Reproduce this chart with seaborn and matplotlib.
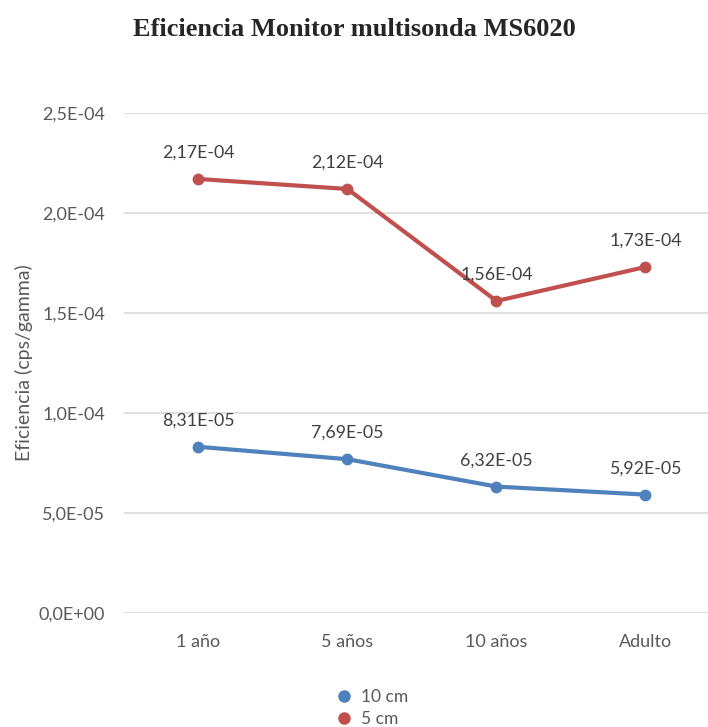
import pandas as pd
import matplotlib.pyplot as plt
import seaborn as sns
from matplotlib.lines import Line2D
from matplotlib.ticker import FuncFormatter

# data
categorias = ["1 año", "5 años", "10 años", "Adulto"]
series = ["10 cm", "5 cm"]
ef_10cm = [8.31e-5, 7.69e-5, 6.32e-5, 5.92e-5]
ef_5cm = [2.17e-4, 2.12e-4, 1.56e-4, 1.73e-4]
colores = ["#4F81BD", "#C0504D"]

df = pd.DataFrame({
    "edad": categorias * 2,
    "eficiencia": ef_10cm + ef_5cm,
    "distancia": [series[0]] * 4 + [series[1]] * 4,
})


def fmt_e(v):
    return f"{v:.2E}".replace(".", ",")


sns.set_theme(style="white")
plt.rcParams["font.family"] = ["Lato", "DejaVu Sans"]

fig = plt.figure(figsize=(7.08, 7.27), dpi=100)
# plot area runs past the right edge, as in the cropped original
ax = fig.add_axes([0.1751, 0.1568, 0.8418, 0.6878])

sns.lineplot(data=df, x="edad", y="eficiencia", hue="distancia",
             palette=colores, marker="o", markersize=8.5, linewidth=3,
             markeredgewidth=0, sort=False, ax=ax, legend=False)

for vals in [ef_10cm, ef_5cm]:
    for i, v in enumerate(vals):
        ax.annotate(fmt_e(v), (i, v), xytext=(0, 19), textcoords="offset points",
                    ha="center", va="center", fontsize=12.8, color="#404040")

ax.set_ylim(0, 2.5e-4)
ax.set_xlim(-0.5, 3.5)
ax.set_yticks([0, 5e-5, 1e-4, 1.5e-4, 2e-4, 2.5e-4])
ax.yaxis.set_major_formatter(FuncFormatter(lambda v, p: f"{v:.1E}".replace(".", ",")))
ax.grid(axis="y", color="#D9D9D9", linewidth=1.2)
ax.set_axisbelow(True)
for s in ax.spines.values():
    s.set_visible(False)
ax.tick_params(axis="both", length=0, labelsize=13, labelcolor="#595959")
ax.tick_params(axis="y", pad=13.5)
ax.tick_params(axis="x", pad=15)
ax.set_xlabel("")
ax.set_ylabel("Eficiencia (cps/gamma)", fontsize=14, color="#595959")
ax.yaxis.set_label_coords(-0.153, 0.5)

fig.suptitle("Eficiencia Monitor multisonda MS6020", y=0.975, fontsize=19,
             fontweight="bold", family=["Liberation Serif", "DejaVu Serif"])

handles = [Line2D([], [], linestyle="none", marker="o", markersize=8, color=c) for c in colores]
fig.legend(handles, series, loc="center", bbox_to_anchor=(0.524, 0.026),
           frameon=False, fontsize=12.5, handletextpad=0.4, labelspacing=0.3,
           labelcolor="#595959", handlelength=1.2)

fig.savefig("out.png", dpi=100)
